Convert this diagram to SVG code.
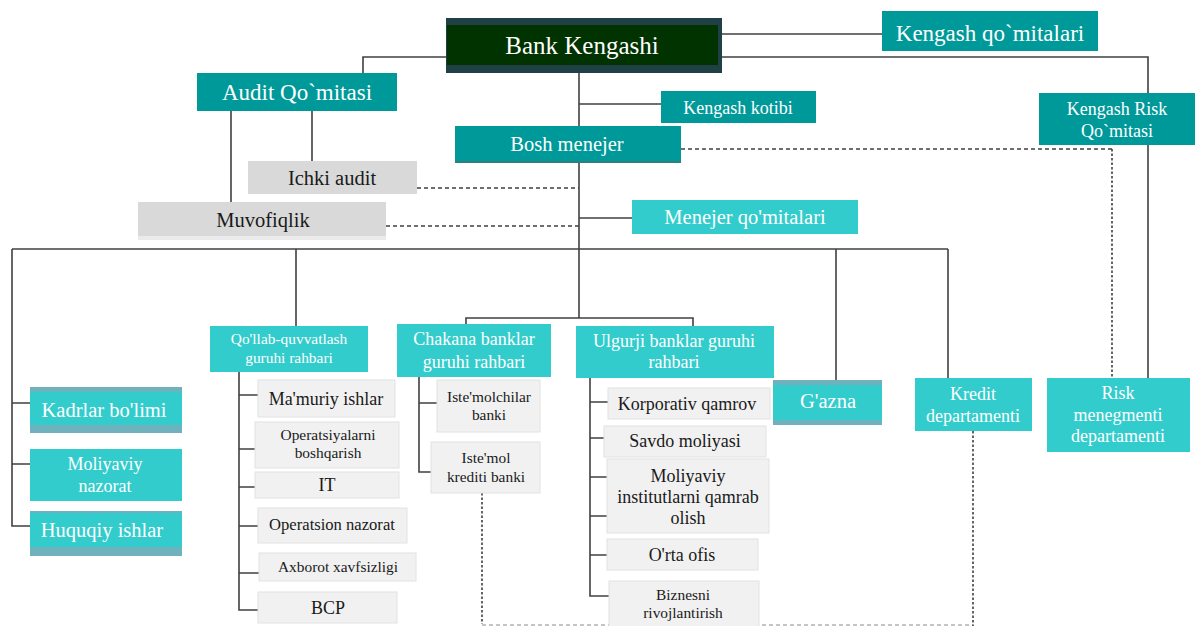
<svg xmlns="http://www.w3.org/2000/svg" width="1195" height="626" viewBox="0 0 1195 626" font-family="'Liberation Serif', 'DejaVu Serif', serif">
<style>
text{font-family:"Liberation Serif","DejaVu Serif",serif;text-anchor:middle}
.w{fill:#ffffff}
.k{fill:#1a1a1a}
.dk{fill:#009999}
.lt{fill:#33cccc}
.band{fill:#6fb1bc}
.gr{fill:#d9d9d9}
.sub{fill:#f1f1f1;stroke:#e2e2e2;stroke-width:1}
.ln{fill:none;stroke:#404040;stroke-width:1.6}
.ds{fill:none;stroke:#404040;stroke-width:1.4;stroke-dasharray:4 3}
.dt{fill:none;stroke:#404040;stroke-width:1.6;stroke-dasharray:2.5 2}
.f25{font-size:25px}.f23{font-size:23px}.f20{font-size:20.5px}.f18{font-size:18px}.f15{font-size:15.4px}
</style>
<rect width="1195" height="626" fill="#ffffff"/>
<g id="connectors">
<path class="ln" d="M446,57 H363 V73"/>
<path class="ln" d="M579,73 V126"/>
<path class="ln" d="M579,104 H661"/>
<path class="ln" d="M722,34 H882"/>
<path class="ln" d="M722,57 H1148 V93"/>
<path class="ln" d="M1148,145 V378"/>
<path class="ln" d="M231,111 V202"/>
<path class="ln" d="M312,111 V161"/>
<path class="ln" d="M579,163 V318"/>
<path class="ln" d="M579,218 H632"/>
<path class="ln" d="M12,249 H948"/>
<path class="ln" d="M12,249 V526 H30 M12,403 H30 M12,464 H30"/>
<path class="ln" d="M296,249 V326"/>
<path class="ln" d="M239,372 V610 H258 M239,395 H258 M239,449 H255 M239,487 H255 M239,526 H258 M239,573 H259"/>
<path class="ln" d="M466,324 V318 H693 V326"/>
<path class="ln" d="M419,377 V472 H431 M419,403 H437"/>
<path class="ln" d="M590,378 V596 H609 M590,402 H608 M590,438 H604 M590,477 H607 M590,516 H607 M590,555 H607"/>
<path class="ln" d="M836,249 V380"/>
<path class="ln" d="M948,249 V378"/>
<path class="ds" d="M417,188 H579"/>
<path class="ds" d="M386,226 H579"/>
<path class="ds" d="M681,149 H1112"/>
<path class="dt" d="M1112,149 V378"/>
<path class="dt" d="M482,493 V624"/>
<path class="ds" d="M482,625 H973" style="stroke:#8a8a8a;stroke-width:1"/>
<path class="dt" d="M973,431 V626"/>
</g>
<g id="bank-kengashi">
<rect x="446" y="18" width="276" height="55" fill="#1f4044"/>
<rect x="447" y="25" width="271" height="40" fill="#003300"/>
<text class="w f25" x="582" y="54">Bank Kengashi</text>
</g>
<g id="kengash-qomitalari">
<rect class="dk" x="882" y="11" width="216" height="40"/>
<text class="w f23" x="990" y="41">Kengash qo`mitalari</text>
</g>
<g id="audit-qomitasi">
<rect class="dk" x="197" y="73" width="200" height="38"/>
<text class="w f23" x="297" y="100">Audit Qo`mitasi</text>
</g>
<g id="kengash-kotibi">
<rect class="dk" x="661" y="91" width="155" height="32"/>
<text class="w f18" x="738" y="114">Kengash kotibi</text>
</g>
<g id="kengash-risk">
<rect class="dk" x="1039" y="93" width="156" height="52"/>
<text class="w f18" x="1117" y="115">Kengash Risk</text>
<text class="w f18" x="1117" y="137">Qo`mitasi</text>
</g>
<g id="bosh-menejer">
<rect class="dk" x="455" y="126" width="226" height="37"/>
<rect x="455" y="161" width="226" height="2" fill="#2f7f80"/>
<text class="w f20" x="567" y="151">Bosh menejer</text>
</g>
<g id="ichki-audit">
<rect class="gr" x="248" y="161" width="169" height="33"/>
<text class="k f20" x="332" y="185">Ichki audit</text>
</g>
<g id="muvofiqlik">
<rect x="138" y="202" width="248" height="38" fill="#ebebeb"/>
<rect class="gr" x="138" y="202" width="248" height="34"/>
<text class="k f20" x="263" y="227">Muvofiqlik</text>
</g>
<g id="menejer-qomitalari">
<rect class="lt" x="632" y="200" width="226" height="34"/>
<text class="w f20" x="745" y="224">Menejer qo'mitalari</text>
</g>
<g id="kadrlar">
<rect class="band" x="30" y="387" width="152" height="46"/>
<rect class="lt" x="30" y="392" width="152" height="33"/>
<text class="w f20" x="104" y="417">Kadrlar bo'limi</text>
</g>
<g id="moliyaviy-nazorat">
<rect class="lt" x="30" y="449" width="152" height="52"/>
<text class="w f18" x="105" y="470">Moliyaviy</text>
<text class="w f18" x="105" y="492">nazorat</text>
</g>
<g id="huquqiy">
<rect class="band" x="30" y="511" width="152" height="45"/>
<rect class="lt" x="30" y="513" width="152" height="34"/>
<text class="w f20" x="102" y="537">Huquqiy ishlar</text>
</g>
<g id="qollab">
<rect class="lt" x="210" y="326" width="158" height="46"/>
<text class="w f15" x="289" y="344">Qo'llab-quvvatlash</text>
<text class="w f15" x="289" y="363">guruhi rahbari</text>
</g>
<g id="mamuriy">
<rect class="sub" x="258" y="380" width="137" height="37"/>
<text class="k f18" x="326" y="405">Ma'muriy ishlar</text>
</g>
<g id="operatsiyalarni">
<rect class="sub" x="255" y="422" width="144" height="46"/>
<text class="k f15" x="328" y="440">Operatsiyalarni</text>
<text class="k f15" x="328" y="458">boshqarish</text>
</g>
<g id="it">
<rect class="sub" x="255" y="472" width="144" height="26"/>
<text class="k f18" x="327" y="491">IT</text>
</g>
<g id="operatsion-nazorat">
<rect class="sub" x="258" y="508" width="149" height="35"/>
<text class="k" style="font-size:16.6px" x="332" y="530">Operatsion nazorat</text>
</g>
<g id="axborot">
<rect class="sub" x="259" y="553" width="157" height="28"/>
<text class="k f15" x="338" y="572">Axborot xavfsizligi</text>
</g>
<g id="bcp">
<rect class="sub" x="258" y="592" width="139" height="31"/>
<text class="k f18" x="328" y="614">BCP</text>
</g>
<g id="chakana">
<rect class="lt" x="397" y="324" width="154" height="53"/>
<text class="w f18" x="474" y="345">Chakana banklar</text>
<text class="w f18" x="474" y="368">guruhi rahbari</text>
</g>
<g id="istemolchilar">
<rect class="sub" x="437" y="380" width="103" height="52"/>
<text class="k f15" x="489" y="402">Iste'molchilar</text>
<text class="k f15" x="489" y="420">banki</text>
</g>
<g id="istemol-krediti">
<rect class="sub" x="431" y="442" width="109" height="51"/>
<text class="k f15" x="486" y="463">Iste'mol</text>
<text class="k f15" x="486" y="482">krediti banki</text>
</g>
<g id="ulgurji">
<rect class="lt" x="576" y="326" width="198" height="52"/>
<text class="w f18" x="674" y="347">Ulgurji banklar guruhi</text>
<text class="w f18" x="674" y="368">rahbari</text>
</g>
<g id="korporativ">
<rect class="sub" x="608" y="388" width="162" height="31"/>
<text class="k f18" x="687" y="410">Korporativ qamrov</text>
</g>
<g id="savdo">
<rect class="sub" x="604" y="426" width="162" height="31"/>
<text class="k f18" x="685" y="447">Savdo moliyasi</text>
</g>
<g id="moliyaviy-institutlar">
<rect class="sub" x="607" y="459" width="162" height="74"/>
<text class="k f18" x="688" y="482">Moliyaviy</text>
<text class="k f18" x="688" y="503">institutlarni qamrab</text>
<text class="k f18" x="688" y="524">olish</text>
</g>
<g id="orta-ofis">
<rect class="sub" x="607" y="539" width="151" height="31"/>
<text class="k f18" x="682" y="561">O'rta ofis</text>
</g>
<g id="biznesni">
<rect class="sub" x="609" y="581" width="150" height="50"/>
<text class="k f15" x="683" y="600">Biznesni</text>
<text class="k f15" x="683" y="618">rivojlantirish</text>
</g>
<g id="gazna">
<rect class="band" x="773" y="380" width="109" height="45"/>
<rect class="lt" x="773" y="385" width="109" height="35"/>
<text class="w f20" x="828" y="408">G'azna</text>
</g>
<g id="kredit">
<rect class="lt" x="915" y="378" width="117" height="53"/>
<text class="w f18" x="973" y="400">Kredit</text>
<text class="w f18" x="973" y="422">departamenti</text>
</g>
<g id="risk-menegmenti">
<rect class="lt" x="1047" y="378" width="143" height="74"/>
<text class="w f18" x="1118" y="399">Risk</text>
<text class="w f18" x="1118" y="421">menegmenti</text>
<text class="w f18" x="1118" y="442">departamenti</text>
</g>
</svg>
